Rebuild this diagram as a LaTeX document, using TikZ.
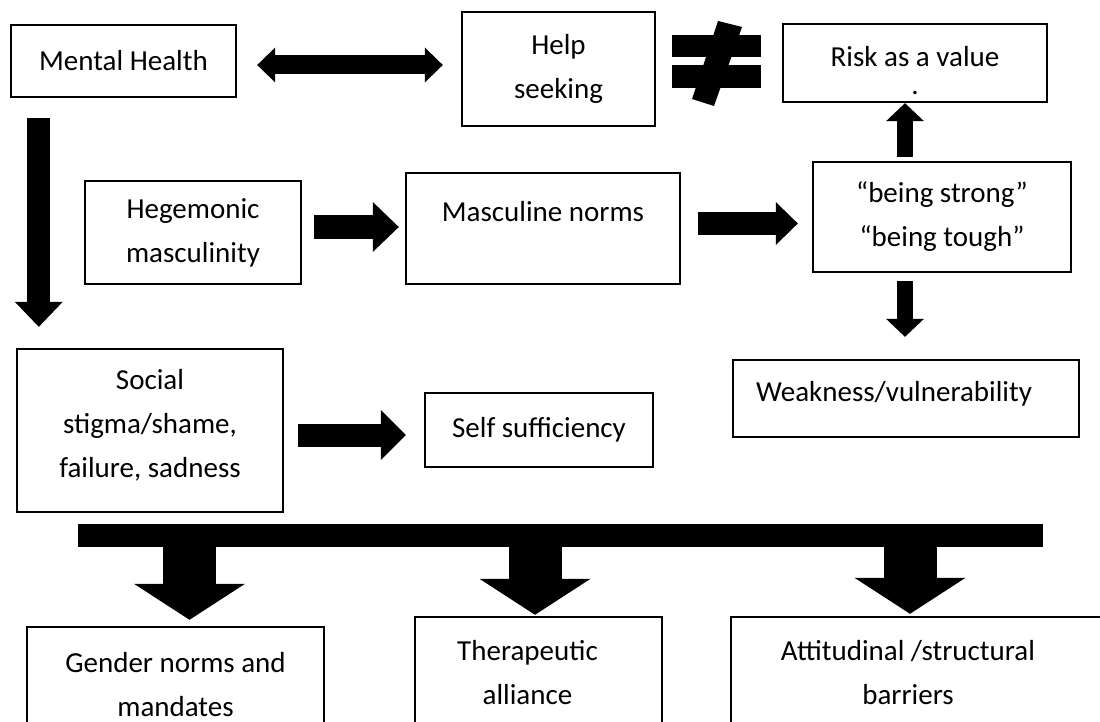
\documentclass[tikz,border=0pt]{standalone}
\usepackage{fontspec}
\setmainfont{Carlito}
\usetikzlibrary{arrows.meta}

\begin{document}
\begin{tikzpicture}[
    x=1pt, y=-1pt,
    box/.style={draw, line width=2.4pt, align=center, inner sep=0pt, font=\fontsize{29}{44}\selectfont},
    fat/.style 2 args={line width=23pt, -{Triangle[length=#1, width=#2, line width=0pt]}},
    slim/.style={line width=16pt, -{Triangle[length=18pt, width=38pt, line width=0pt]}},
    twoway/.style={line width=19pt, {Triangle[length=18pt, width=35pt, line width=0pt]}-{Triangle[length=18pt, width=35pt, line width=0pt]}},
    heavy/.style={line width=53pt, -{Triangle[length=36pt, width=111pt, line width=0pt]}}
]
\useasboundingbox (0,0) rectangle (1100,722);

% top row
\node[box, minimum width=225pt, minimum height=72pt] (mh) at (123.5,61) {Mental Health};
\node[box, minimum width=193pt, minimum height=114pt] (help) at (558.5,69) {Help\\seeking};
\node[box, minimum width=264pt, minimum height=78pt] (risk) at (915,63) {\rule{0pt}{36pt}Risk as a value\\[-16pt].};

% middle row
\node[box, minimum width=216pt, minimum height=103pt] (heg) at (193,232.5) {Hegemonic\\masculinity};
\node[box, minimum width=274pt, minimum height=111pt] (masc) at (543,228.5) {\raisebox{7pt}[0pt][0pt]{Masculine norms}};
\node[box, minimum width=258pt, minimum height=110pt] (strong) at (942,217) {``being strong''\\``being tough''};

\node[box, minimum width=266pt, minimum height=163pt] (social) at (150,430.5) {Social\\stigma/shame,\\failure, sadness\rule[-14pt]{0pt}{14pt}};
\node[box, minimum width=228pt, minimum height=74pt] (self) at (539,430) {Self sufficiency};
\node[box, minimum width=346pt, minimum height=77pt] (weak) at (906,398.5) {\hspace*{-24pt}\raisebox{-3pt}[0pt][0pt]{Weakness/vulnerability}};

% bottom row
\node[fill, inner sep=0pt, minimum width=965pt, minimum height=23pt] (bar) at (560.5,535.5) {};
\node[box, minimum width=297pt, minimum height=115pt] (gender) at (175.5,684.5) {Gender norms and\\mandates};
\node[box, minimum width=247pt, minimum height=111pt] (thera) at (538.5,672.5) {\hspace*{-22pt}Therapeutic\\\hspace*{-22pt}alliance};
\node[box, minimum width=378pt, minimum height=111pt] (barr) at (920,672.5) {\hspace*{-24pt}Attitudinal /structural\\\hspace*{-24pt}barriers};

% not equal sign
\fill (672,35) rectangle (761,57);
\fill (672,65) rectangle (761,88);
\fill (718,21) -- (742,27) -- (714,106) -- (692,99) -- cycle;

\draw[twoway] ([xshift=20pt,yshift=-4pt]mh.east) -- ([xshift=-18pt,yshift=4pt]help.west);
\draw[fat={25pt}{48pt}] ([xshift=29pt,yshift=-20pt]mh.south west) -- ([xshift=23pt,yshift=21pt]social.north west);
\draw[fat={26pt}{50pt}] ([xshift=12pt,yshift=5.5pt]heg.east) -- ([xshift=-6pt,yshift=1.5pt]masc.west);
\draw[fat={22pt}{43pt}] ([xshift=17pt,yshift=5pt]masc.east) -- ([xshift=-14pt,yshift=-6.5pt]strong.west);
\draw[slim] ([xshift=-37pt,yshift=4pt]strong.north) -- ([xshift=-10pt]risk.south);
\draw[slim] ([xshift=-37pt,yshift=-8pt]strong.south) -- ([xshift=-1pt,yshift=22pt]weak.north);
\draw[fat={25pt}{50pt}] ([xshift=14pt,yshift=-4.5pt]social.east) -- ([xshift=-18pt,yshift=-5pt]self.west);

\draw[heavy] ([xshift=14pt]gender.north |- bar.south) -- ([xshift=14pt,yshift=6pt]gender.north);
\draw[heavy] ([xshift=-3.5pt]thera.north |- bar.south) -- ([xshift=-3.5pt,yshift=1pt]thera.north);
\draw[heavy] ([xshift=-10pt]barr.north |- bar.south) -- ([xshift=-10pt,yshift=2pt]barr.north);
\end{tikzpicture}
\end{document}
